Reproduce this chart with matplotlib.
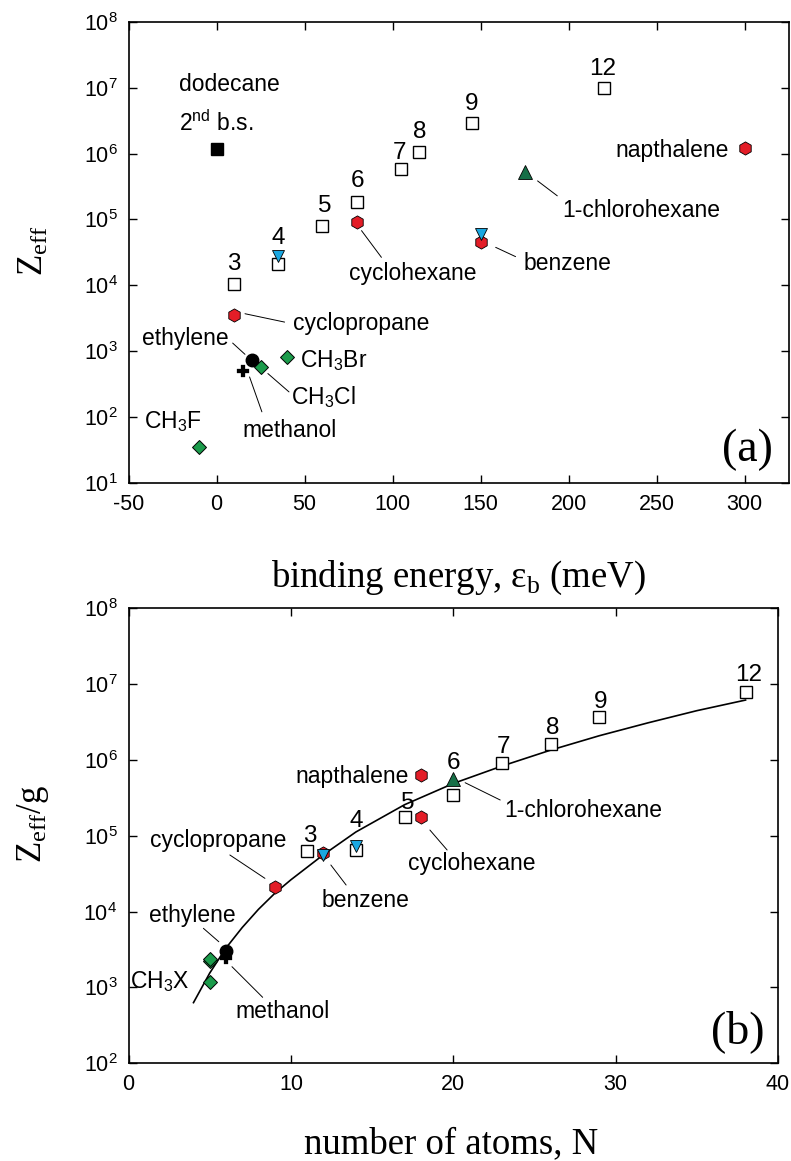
import numpy as np
import matplotlib
matplotlib.use("Agg")
import matplotlib.pyplot as plt

plt.rcParams['font.family'] = ['Liberation Sans', 'DejaVu Sans']
plt.rcParams['mathtext.fontset'] = 'custom'
plt.rcParams['mathtext.rm'] = 'Liberation Sans'
plt.rcParams['mathtext.it'] = 'Liberation Sans:italic'
plt.rcParams['mathtext.sf'] = 'Liberation Serif'

# ---------------- data: panel (a) ----------------
alk_labels = ['3', '4', '5', '6', '7', '8', '9', '12']
alk_eb = [10, 35, 60, 80, 105, 115, 145, 220]
alk_zeff = [1.05e4, 2.11e4, 8.0e4, 1.81e5, 5.8e5, 1.07e6, 2.95e6, 9.8e6]

dod2_eb = [0]
dod2_zeff = [1.19e6]

deut_eb = [35, 150]
deut_zeff = [2.82e4, 6.1e4]

ring_names = ['cyclopropane', 'cyclohexane', 'benzene', 'napthalene']
ring_eb = [10, 80, 150, 300]
ring_zeff = [3.56e3, 9.2e4, 4.6e4, 1.23e6]

chx_eb = [175]
chx_zeff = [5.3e5]

halide_names = ['CH$_3$F', 'CH$_3$Cl', 'CH$_3$Br']
halide_eb = [-10, 25, 40]
halide_zeff = [35, 573, 811]

eth_eb = [20]
eth_zeff = [723]
meoh_eb = [15]
meoh_zeff = [492]

# ---------------- data: panel (b) ----------------
alk_N = [11, 14, 17, 20, 23, 26, 29, 38]
alk_zg = [6.3e4, 6.4e4, 1.79e5, 3.45e5, 9.2e5, 1.6e6, 3.65e6, 7.9e6]

deut_N = [12, 14]
deut_zg = [5.6e4, 7.4e4]

ring_N = [9, 18, 12, 18]
ring_zg = [2.13e4, 1.75e5, 6.0e4, 6.3e5]

chx_N = [20]
chx_zg = [5.6e5]

halide_N = [5, 5, 5]
halide_zg = [1.19e3, 2.2e3, 2.35e3]

eth_N = [6]
eth_zg = [3.05e3]
meoh_N = [6]
meoh_zg = [2.42e3]

fit_N = [4, 5, 6, 7, 8, 9, 10, 12, 14, 17, 20, 23, 26, 29, 32, 35, 38]
fit_logzg = [2.80, 3.19, 3.52, 3.79, 4.03, 4.24, 4.42, 4.75, 5.05, 5.41, 5.69, 5.92, 6.13, 6.32, 6.49, 6.65, 6.79]

# ---------------- styles ----------------
BLUE = '#1aa7e1'
RED = '#e31d27'
DKGREEN = '#166f47'
GREEN = '#1b9b4b'
FS_ANN = 16.5
FS_NUM = 17.5
FS_TICK = 15.5

fig = plt.figure(figsize=(7.91, 11.61), dpi=100)
axA = fig.add_axes([0.1626, 0.5843, 0.8346, 0.3967])
axB = fig.add_axes([0.1625, 0.08415, 0.8211, 0.39191])

for ax in (axA, axB):
    ax.set_yscale('log')
    ax.tick_params(which='major', direction='in', top=True, right=True, length=6, width=1.0,
                   labelsize=FS_TICK, pad=8)
    ax.tick_params(which='minor', length=0)
    for s in ax.spines.values():
        s.set_linewidth(1.2)

sq = dict(marker='s', ms=8, mfc='white', mec='black', mew=1.0, ls='none')
tri = dict(marker='v', ms=9, mfc=BLUE, mec='black', mew=0.6, ls='none')
hexm = dict(marker='h', ms=9.5, mfc=RED, mec='black', mew=0.6, ls='none')
utri = dict(marker='^', ms=9.5, mfc=DKGREEN, mec='black', mew=0.6, ls='none')
dia = dict(marker='D', ms=7, mfc=GREEN, mec='black', mew=0.7, ls='none')
circ = dict(marker='o', ms=9, mfc='black', mec='black', ls='none')
plus = dict(marker='P', ms=8, mfc='black', mec='black', mew=0.2, ls='none')

# ---------------- panel (a) ----------------
ax = axA
ax.set_xlim(-50, 325)
ax.set_ylim(1e1, 1e8)
ax.set_xticks([-50, 0, 50, 100, 150, 200, 250, 300])
ax.set_xticklabels(['-50', '0', '50', '100', '150', '200', '250', '300'])
ax.set_yticks([10.0**k for k in range(1, 9)])

ax.plot(alk_eb, alk_zeff, zorder=3, **sq)
ax.plot(dod2_eb, dod2_zeff, marker='s', ms=8, mfc='black', mec='black', ls='none', zorder=3)
ax.plot(ring_eb, ring_zeff, zorder=3, **hexm)
ax.plot(deut_eb, deut_zeff, zorder=4, **tri)
ax.plot(chx_eb, chx_zeff, zorder=3, **utri)
ax.plot(eth_eb, eth_zeff, zorder=3, **circ)
ax.plot(meoh_eb, meoh_zeff, zorder=3, **plus)
ax.plot(halide_eb, halide_zeff, zorder=4, **dia)

lab_off_a = [20, 26, 20, 21, 16, 20, 19, 19]
lab_dx_a = [0, 0, 2, 0, -2, 1, 0, -1]
for x, y, t, dy, dx in zip(alk_eb, alk_zeff, alk_labels, lab_off_a, lab_dx_a):
    ax.annotate(t, (x, y), xytext=(dx * 0.72, dy * 0.72), textcoords='offset points',
                ha='center', va='center', fontsize=FS_NUM)

def leader(ax, p0, p1):
    ax.annotate('', xy=p0, xytext=p1,
                arrowprops=dict(arrowstyle='-', lw=0.7, color='black', shrinkA=0, shrinkB=0))

ax.text(-21.3, 10**7.052, 'dodecane', fontsize=FS_ANN, ha='left', va='center')
ax.text(-21.3, 10**6.47, '2$^{\\mathrm{nd}}$ b.s.', fontsize=FS_ANN, ha='left', va='center')
ax.text(291, 10**6.041, ring_names[3], fontsize=FS_ANN, ha='right', va='center')
ax.text(196.5, 10**5.142, '1-chlorohexane', fontsize=FS_ANN, ha='left', va='center')
leader(ax, (182.3, 10**5.586), (193.5, 10**5.359))
ax.text(111.4, 10**4.173, ring_names[1], fontsize=FS_ANN, ha='center', va='center')
leader(ax, (82.3, 10**4.83), (93.6, 10**4.424))
ax.text(174.3, 10**4.324, ring_names[2], fontsize=FS_ANN, ha='left', va='center')
leader(ax, (158.5, 10**4.576), (169.8, 10**4.435))
ax.text(43.6, 10**3.415, ring_names[0], fontsize=FS_ANN, ha='left', va='center')
leader(ax, (16.1, 10**3.567), (38.6, 10**3.44))
ax.text(6.7, 10**3.188, 'ethylene', fontsize=FS_ANN, ha='right', va='center')
leader(ax, (9.1, 10**3.121), (16.1, 10**2.95))
ax.text(47.4, 10**2.859, halide_names[2], fontsize=FS_ANN, ha='left', va='center')
ax.text(42.4, 10**2.303, halide_names[1], fontsize=FS_ANN, ha='left', va='center')
leader(ax, (29.1, 10**2.658), (41.1, 10**2.379))
ax.text(14.9, 10**1.798, 'methanol', fontsize=FS_ANN, ha='left', va='center')
leader(ax, (18.7, 10**2.606), (25.7, 10**2.076))
ax.text(-41.3, 10**1.924, halide_names[0], fontsize=FS_ANN, ha='left', va='center')
ax.text(0.937, 0.071, '(a)', transform=ax.transAxes, fontsize=33, family='Liberation Serif',
        ha='center', va='center')

# ---------------- panel (b) ----------------
ax = axB
ax.set_xlim(0, 40)
ax.set_ylim(1e2, 1e8)
ax.set_xticks([0, 10, 20, 30, 40])
ax.set_yticks([10.0**k for k in range(2, 9)])

ax.plot(fit_N, [10**v for v in fit_logzg], color='black', lw=1.2, zorder=2)
ax.plot(alk_N, alk_zg, zorder=3, **sq)
ax.plot(ring_N, ring_zg, zorder=3, **hexm)
ax.plot(deut_N, deut_zg, zorder=4, **tri)
ax.plot(chx_N, chx_zg, zorder=3, **utri)
ax.plot(eth_N, eth_zg, zorder=3, **circ)
ax.plot(meoh_N, meoh_zg, zorder=4, **plus)
ax.plot(halide_N, halide_zg, zorder=4, **dia)

lab_off_b = [15, 29, 14, 32, 16, 16, 15, 17]
lab_dx_b = [3, 0, 3, 0, 2, 2, 1, 3]
for x, y, t, dy, dx in zip(alk_N, alk_zg, alk_labels, lab_off_b, lab_dx_b):
    ax.annotate(t, (x, y), xytext=(dx * 0.72, dy * 0.72), textcoords='offset points',
                ha='center', va='center', fontsize=FS_NUM)

ax.text(17.28, 10**5.779, ring_names[3], fontsize=FS_ANN, ha='right', va='center')
ax.text(23.16, 10**5.34, '1-chlorohexane', fontsize=FS_ANN, ha='left', va='center')
leader(axB, (20.73, 10**5.7), (22.89, 10**5.472))
ax.text(21.13, 10**4.637, ring_names[1], fontsize=FS_ANN, ha='center', va='center')
leader(axB, (18.56, 10**5.076), (19.62, 10**4.813))
ax.text(9.75, 10**4.944, ring_names[0], fontsize=FS_ANN, ha='right', va='center')
leader(axB, (6.24, 10**4.747), (8.4, 10**4.439))
ax.text(14.59, 10**4.153, ring_names[2], fontsize=FS_ANN, ha='center', va='center')
leader(axB, (12.46, 10**4.615), (13.4, 10**4.351))
ax.text(3.93, 10**3.955, 'ethylene', fontsize=FS_ANN, ha='center', va='center')
leader(axB, (4.61, 10**3.78), (5.56, 10**3.603))
ax.text(0.09, 10**3.076, 'CH$_3$X', fontsize=FS_ANN, ha='left', va='center')
ax.text(6.59, 10**2.68, 'methanol', fontsize=FS_ANN, ha='left', va='center')
leader(axB, (6.37, 10**3.274), (8.26, 10**2.87))
ax.text(0.9375, 0.0695, '(b)', transform=ax.transAxes, fontsize=33, family='Liberation Serif',
        ha='center', va='center')

# ---------------- axis labels ----------------
fig.text(458 / 791, 1 - 586.7 / 1161, 'binding energy, \u03b5$_{\\mathsf{b}}$ (meV)',
         family='Liberation Serif', fontsize=26.5, ha='center', va='baseline')
fig.text(451.5 / 791, 1 - 1153 / 1161, 'number of atoms, N',
         family='Liberation Serif', fontsize=26.5, ha='center', va='baseline')
fig.text(33 / 791, 1 - 251 / 1161, 'Z$_{\\mathsf{eff}}$', family='Liberation Serif',
         fontsize=25, rotation=90, ha='center', va='center')
fig.text(33 / 791, 1 - 824 / 1161, 'Z$_{\\mathsf{eff}}$/g', family='Liberation Serif',
         fontsize=25, rotation=90, ha='center', va='center')

fig.savefig('out.png', dpi=100)
